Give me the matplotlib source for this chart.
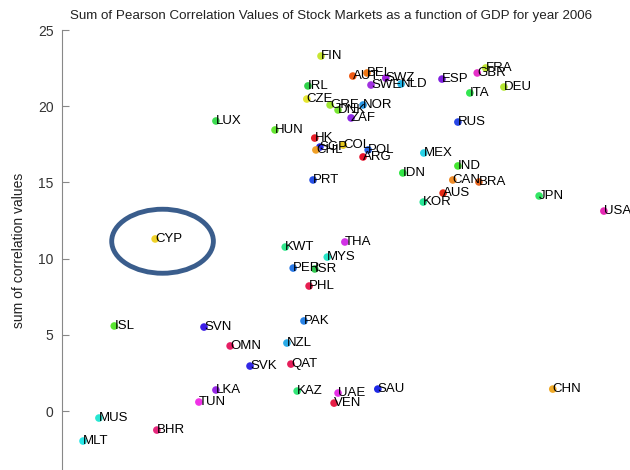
import matplotlib
matplotlib.use("Agg")
import matplotlib.pyplot as plt
from matplotlib.patches import Ellipse

plt.rcParams['font.family'] = ['Liberation Sans', 'DejaVu Sans']

countries = ["FIN", "AUT", "BEL", "SWZ", "SWE", "NLD", "ESP", "GBR", "FRA", "DEU",
             "ITA", "IRL", "CZE", "GRE", "DNK", "NOR", "ZAF", "RUS", "HUN", "LUX",
             "HK", "SGP", "COL", "CHL", "POL", "ARG", "MEX", "IND", "IDN", "CAN",
             "BRA", "AUS", "KOR", "JPN", "USA", "PRT", "CYP", "KWT", "THA", "MYS",
             "PER", "ISR", "PHL", "ISL", "SVN", "PAK", "OMN", "NZL", "SVK", "QAT",
             "LKA", "TUN", "KAZ", "UAE", "VEN", "SAU", "CHN", "MUS", "BHR", "MLT"]

# relative GDP position (horizontal axis, unlabelled)
gdp = [45.6, 51.2, 53.7, 57.0, 54.4, 59.7, 66.9, 73.1, 74.6, 77.8,
       71.8, 43.3, 43.1, 47.2, 48.6, 53.0, 50.9, 69.7, 37.5, 27.1,
       44.5, 45.4, 49.5, 44.7, 53.9, 53.0, 63.7, 69.7, 60.0, 68.8,
       73.4, 67.1, 63.6, 84.0, 95.4, 44.2, 16.4, 39.3, 49.8, 46.7,
       40.7, 44.5, 43.5, 9.2, 25.0, 42.6, 29.6, 39.6, 33.1, 40.3,
       27.1, 24.1, 41.4, 48.6, 47.9, 55.6, 86.4, 6.5, 16.7, 3.7]

corr_sum = [23.29, 21.98, 22.18, 21.85, 21.39, 21.46, 21.78, 22.18, 22.51, 21.26,
            20.87, 21.33, 20.47, 20.08, 19.75, 20.08, 19.23, 18.96, 18.44, 19.03,
            17.91, 17.32, 17.45, 17.13, 17.13, 16.67, 16.93, 16.08, 15.62, 15.16,
            15.03, 14.30, 13.71, 14.11, 13.12, 15.16, 11.29, 10.76, 11.09, 10.10,
            9.38, 9.32, 8.20, 5.58, 5.51, 5.91, 4.27, 4.46, 2.95, 3.08,
            1.38, 0.59, 1.31, 1.18, 0.52, 1.44, 1.44, -0.46, -1.25, -1.97]

colors = ["#c8e632", "#f05a14", "#f07814", "#a020e0", "#a030e0", "#20b4e6", "#8020e0", "#e632c8", "#c0e632", "#b4e632",
          "#32e650", "#32d24b", "#e6e632", "#a0e632", "#78e632", "#2896e6", "#8c28e6", "#2846e6", "#64e632", "#3cdc50",
          "#e61e28", "#2828e6", "#e6c81e", "#f0a028", "#2864e6", "#e6142d", "#28d2e6", "#46e632", "#32e646", "#f08c28",
          "#e6641e", "#e62814", "#28e696", "#32e664", "#e628b4", "#2850e6", "#f0d228", "#32e68c", "#d232e6", "#28e6c8",
          "#2878e6", "#32c850", "#e61e50", "#5ae632", "#3c1ee6", "#2882e6", "#e61e64", "#28aae6", "#3228e6", "#e61e5a",
          "#9628e6", "#f032e6", "#32e678", "#e632e6", "#e61e46", "#1e28e6", "#f0aa28", "#28e6d2", "#e6287d", "#28e6e6"]

yticks = [0, 5, 10, 15, 20, 25]

fig = plt.figure(figsize=(6.3, 4.7), dpi=100)
ax = fig.add_axes([62 / 630, 0.0, 1 - 62 / 630, 1 - 30 / 470])

ax.scatter(gdp, corr_sum, s=30, c=colors, edgecolors='none', zorder=2)
for name, x, y in zip(countries, gdp, corr_sum):
    ax.annotate(name, (x, y), xytext=(0, 0), textcoords='offset points',
                ha='left', va='center', fontsize=9.5, color='#000000', zorder=3)

# highlight around Cyprus
ax.add_patch(Ellipse((gdp[36] + 1.3, corr_sum[36] - 0.15), width=17.9, height=4.2,
                     fill=False, edgecolor='#3a5d8c', linewidth=3.5, zorder=4))

ax.set_xlim(0, 100)
ax.set_ylim(-3.87, 25)
ax.set_yticks(yticks)
ax.set_xticks([])
for side in ['top', 'right', 'bottom']:
    ax.spines[side].set_visible(False)
ax.spines['left'].set_color('#888888')
ax.tick_params(axis='y', direction='in', length=5, color='#888888',
               labelsize=10, labelcolor='#333333', pad=6)
ax.set_ylabel('sum of correlation values', fontsize=10, color='#222222', labelpad=9)

fig.text(331 / 630, 1 - 16 / 470,
         'Sum of Pearson Correlation Values of Stock Markets as a function of GDP for year 2006',
         ha='center', va='center', fontsize=9.6, color='#222222')

fig.savefig('out.png', dpi=100)
